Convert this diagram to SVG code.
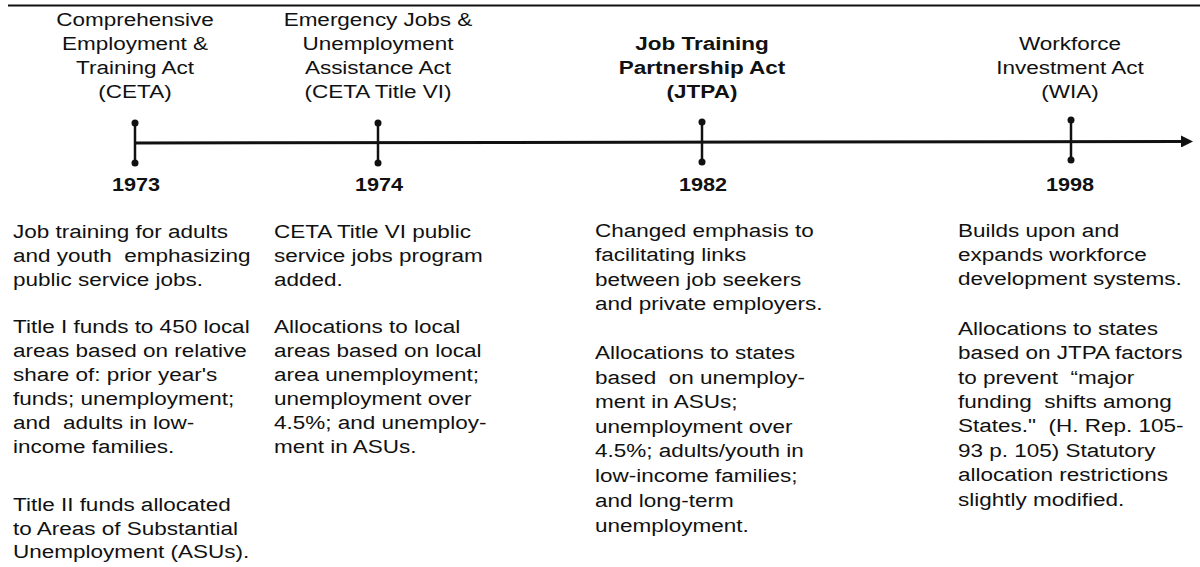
<svg xmlns="http://www.w3.org/2000/svg" width="1200" height="567" viewBox="0 0 1200 567">
<defs>
<style>
text{font-family:"Liberation Sans",Arial,Helvetica,sans-serif;font-size:18px;fill:#111;white-space:pre}
.t{text-anchor:middle}
.b{font-weight:bold}
.yr{text-anchor:middle;font-weight:bold;font-size:19px}
.tick{stroke:#111;stroke-width:2.5}
.dot{fill:#111}
.axis{stroke:#111;stroke-width:3;fill:none}
</style>
<marker id="arr" viewBox="0 0 12 12" refX="1" refY="6" markerWidth="12" markerHeight="12" markerUnits="userSpaceOnUse" orient="auto">
<path d="M0,0 L12,6 L0,12 Z" fill="#111"/>
</marker>
</defs>
<rect width="1200" height="567" fill="#fff"/>
<line x1="8" y1="5.5" x2="1200" y2="5.5" stroke="#111" stroke-width="2"/>

<g id="connectors">
<line class="axis" x1="135" y1="143" x2="1182" y2="141.5" marker-end="url(#arr)"/>
</g>

<g id="ceta">
<line class="tick" x1="135" y1="123" x2="135" y2="163"/>
<circle class="dot" cx="135" cy="123" r="3.5"/>
<circle class="dot" cx="135" cy="163" r="3.5"/>
<g transform="translate(135 0) scale(1.25 1)">
<text class="t" x="0" y="26">Comprehensive</text>
<text class="t" x="0" y="50">Employment &amp;</text>
<text class="t" x="0" y="74">Training Act</text>
<text class="t" x="0" y="98">(CETA)</text>
</g>
<g transform="translate(136 0) scale(1.14 1)">
<text class="yr" x="0" y="191">1973</text>
</g>
<g transform="translate(13 0) scale(1.25 1)">
<text x="0" y="238">Job training for adults</text>
<text x="0" y="262">and youth  emphasizing</text>
<text x="0" y="286">public service jobs.</text>
<text x="0" y="333">Title I funds to 450 local</text>
<text x="0" y="357">areas based on relative</text>
<text x="0" y="381">share of: prior year's</text>
<text x="0" y="405">funds; unemployment;</text>
<text x="0" y="429">and  adults in low-</text>
<text x="0" y="453">income families.</text>
<text x="0" y="511">Title II funds allocated</text>
<text x="0" y="535">to Areas of Substantial</text>
<text x="0" y="558">Unemployment (ASUs).</text>
</g>
</g>

<g id="ceta-title-vi">
<line class="tick" x1="378" y1="123" x2="378" y2="163"/>
<circle class="dot" cx="378" cy="123" r="3.5"/>
<circle class="dot" cx="378" cy="163" r="3.5"/>
<g transform="translate(378 0) scale(1.25 1)">
<text class="t" x="0" y="26">Emergency Jobs &amp;</text>
<text class="t" x="0" y="50">Unemployment</text>
<text class="t" x="0" y="74">Assistance Act</text>
<text class="t" x="0" y="98">(CETA Title VI)</text>
</g>
<g transform="translate(379 0) scale(1.14 1)">
<text class="yr" x="0" y="191">1974</text>
</g>
<g transform="translate(274 0) scale(1.25 1)">
<text x="0" y="238">CETA Title VI public</text>
<text x="0" y="262">service jobs program</text>
<text x="0" y="286">added.</text>
<text x="0" y="333">Allocations to local</text>
<text x="0" y="357">areas based on local</text>
<text x="0" y="381">area unemployment;</text>
<text x="0" y="405">unemployment over</text>
<text x="0" y="429">4.5%; and unemploy-</text>
<text x="0" y="453">ment in ASUs.</text>
</g>
</g>

<g id="jtpa">
<line class="tick" x1="702" y1="122" x2="702" y2="162"/>
<circle class="dot" cx="702" cy="122" r="3.5"/>
<circle class="dot" cx="702" cy="162" r="3.5"/>
<g transform="translate(702 0) scale(1.25 1)">
<text class="t b" x="0" y="50">Job Training</text>
<text class="t b" x="0" y="74">Partnership Act</text>
<text class="t b" x="0" y="98">(JTPA)</text>
</g>
<g transform="translate(703 0) scale(1.14 1)">
<text class="yr" x="0" y="191">1982</text>
</g>
<g transform="translate(595 0) scale(1.25 1)">
<text x="0" y="237">Changed emphasis to</text>
<text x="0" y="261">facilitating links</text>
<text x="0" y="286">between job seekers</text>
<text x="0" y="310">and private employers.</text>
<text x="0" y="359">Allocations to states</text>
<text x="0" y="384">based  on unemploy-</text>
<text x="0" y="408">ment in ASUs;</text>
<text x="0" y="433">unemployment over</text>
<text x="0" y="457">4.5%; adults/youth in</text>
<text x="0" y="482">low-income families;</text>
<text x="0" y="507">and long-term</text>
<text x="0" y="532">unemployment.</text>
</g>
</g>

<g id="wia">
<line class="tick" x1="1071" y1="120" x2="1071" y2="160"/>
<circle class="dot" cx="1071" cy="120" r="3.5"/>
<circle class="dot" cx="1071" cy="160" r="3.5"/>
<g transform="translate(1070 0) scale(1.25 1)">
<text class="t" x="0" y="50">Workforce</text>
<text class="t" x="0" y="74">Investment Act</text>
<text class="t" x="0" y="98">(WIA)</text>
</g>
<g transform="translate(1070 0) scale(1.14 1)">
<text class="yr" x="0" y="191">1998</text>
</g>
<g transform="translate(958 0) scale(1.25 1)">
<text x="0" y="237">Builds upon and</text>
<text x="0" y="261">expands workforce</text>
<text x="0" y="285">development systems.</text>
<text x="0" y="335">Allocations to states</text>
<text x="0" y="359">based on JTPA factors</text>
<text x="0" y="384">to prevent  “major</text>
<text x="0" y="408">funding  shifts among</text>
<text x="0" y="432">States."  (H. Rep. 105-</text>
<text x="0" y="457">93 p. 105) Statutory</text>
<text x="0" y="481">allocation restrictions</text>
<text x="0" y="506">slightly modified.</text>
</g>
</g>
</svg>
